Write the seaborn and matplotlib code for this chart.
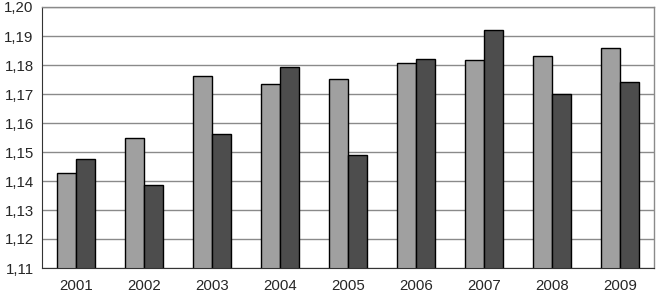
import numpy as np
import pandas as pd
import matplotlib
matplotlib.use('Agg')
import matplotlib.pyplot as plt
import seaborn as sns
from matplotlib.ticker import FixedLocator, FuncFormatter

# data
years = ['2001', '2002', '2003', '2004', '2005', '2006', '2007', '2008', '2009']
series_a = [1.1429, 1.1549, 1.1762, 1.1733, 1.1751, 1.1808, 1.1816, 1.1830, 1.1860]
series_b = [1.1476, 1.1385, 1.1561, 1.1793, 1.1491, 1.1821, 1.1921, 1.1701, 1.1741]
y_ticks = [1.11, 1.12, 1.13, 1.14, 1.15, 1.16, 1.17, 1.18, 1.19, 1.20]

df = pd.DataFrame({
    'year': years * 2,
    'value': series_a + series_b,
    'series': ['a'] * len(years) + ['b'] * len(years),
})

sns.set_style('white')
plt.rcParams['font.family'] = ['Liberation Sans', 'DejaVu Sans']

fig = plt.figure(figsize=(6.56, 2.98), dpi=100)
ax = fig.add_axes([42 / 656, 30 / 298, 612 / 656, 261 / 298])

sns.barplot(data=df, x='year', y='value', hue='series',
            palette=['#a0a0a0', '#4d4d4d'], width=0.56,
            edgecolor='black', linewidth=1.0, legend=False, ax=ax)

ax.set_ylim(1.11, 1.20)
ax.set_xlim(-0.5, len(years) - 0.5)
ax.yaxis.set_major_locator(FixedLocator(y_ticks))
ax.yaxis.set_major_formatter(FuncFormatter(lambda v, p: f'{v:.2f}'.replace('.', ',')))
ax.grid(axis='y', color='#8a8a8a', linewidth=1.0)
ax.set_axisbelow(True)

# category boundary ticks on x axis
ax.xaxis.set_minor_locator(FixedLocator(np.arange(-0.5, len(years), 1.0)))
ax.tick_params(axis='x', which='major', length=0, labelsize=10.8, pad=8)
ax.tick_params(axis='x', which='minor', length=5, width=0.8, color='#333333', direction='out')
ax.tick_params(axis='y', which='major', length=4, width=0.8, color='#333333',
               direction='out', labelsize=10.8, pad=2)

for side in ['top', 'right']:
    ax.spines[side].set_color('#8a8a8a')
    ax.spines[side].set_linewidth(1.0)
ax.spines['left'].set_color('#333333')
ax.spines['bottom'].set_color('#333333')
ax.spines['left'].set_linewidth(0.8)
ax.spines['bottom'].set_linewidth(0.8)

ax.set_xlabel('')
ax.set_ylabel('')

fig.savefig('out.png', dpi=100)
